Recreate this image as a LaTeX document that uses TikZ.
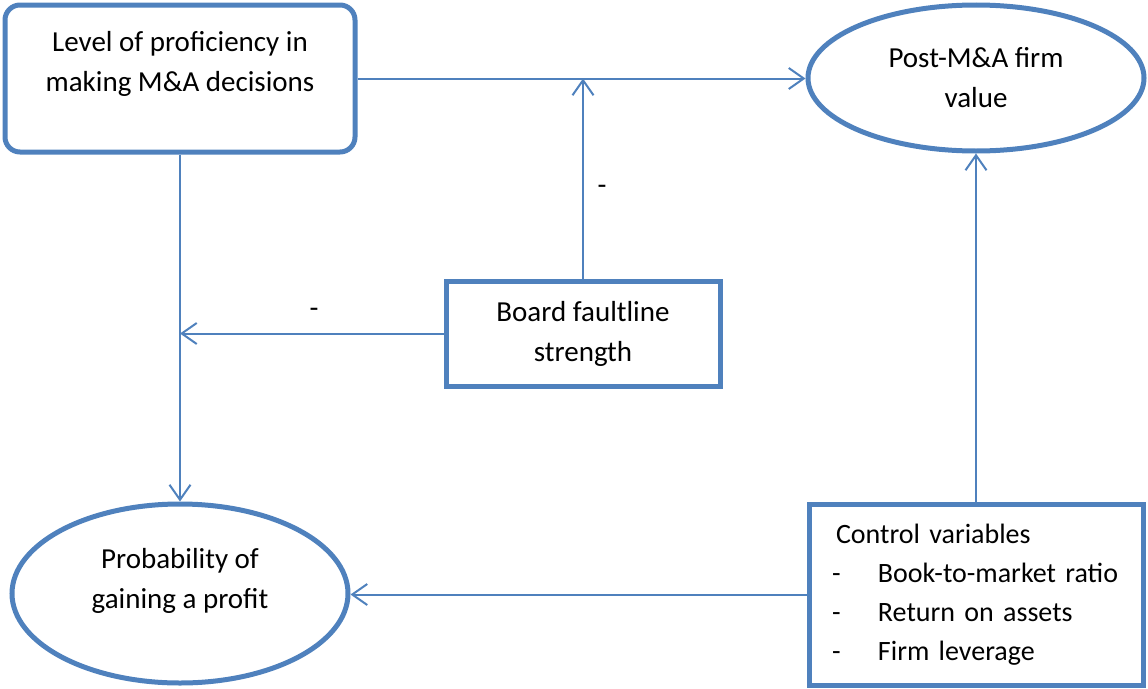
\documentclass[tikz,border=0pt]{standalone}
\usepackage{fontspec}
\setmainfont{Carlito}
\usetikzlibrary{arrows.meta, shapes.geometric}

\definecolor{msblue}{HTML}{4F81BD}

\tikzset{
    thickbox/.style={draw=msblue, line width=5pt, align=center, inner sep=0pt,
        font=\fontsize{29}{40}\selectfont},
    flow/.style={draw=msblue, line width=2pt, -{Straight Barb[length=15pt, width=21pt]}},
    sign/.style={font=\fontsize{29}{40}\selectfont}
}

\begin{document}
\begin{tikzpicture}[x=1pt, y=-1pt]
    \useasboundingbox (0,0) rectangle (1148,688);
    \node [thickbox, rounded corners=15pt, minimum width=350pt, minimum height=147pt,
        text depth=34pt] (prof) at (180,78.5)
        {Level of proficiency in\\making M\&A decisions};
    \node [thickbox, ellipse, minimum width=336pt, minimum height=146pt] (post) at (976,78)
        {Post-M\&A firm\\value};
    \node [thickbox, minimum width=274pt, minimum height=105pt] (board) at (583,333.5)
        {Board faultline\\strength};
    \node [thickbox, ellipse, minimum width=336pt, minimum height=179pt,
        text depth=30pt] (prob) at (180,593.5)
        {Probability of\\gaining a profit};
    \node [thickbox, align=left, minimum width=334pt, minimum height=181pt,
        text width=300pt, font=\fontsize{28}{39}\selectfont] (ctrl) at (976,594.5)
        {\hspace*{10pt}Control variables\\
         \hspace*{6pt}\makebox[46pt][l]{-}Book-to-market ratio\\
         \hspace*{6pt}\makebox[46pt][l]{-}Return on assets\\
         \hspace*{6pt}\makebox[46pt][l]{-}Firm leverage};
    \node [sign] (neg1) at (602,190) {-};
    \node [sign] (neg2) at (314,313) {-};
    \coordinate (hit1) at (board.north |- prof.east);
    \coordinate (hit2) at (prof.south |- board.west);
    \draw [flow] (prof.east) -- (prof.east -| post.west);
    \draw [flow] (board.north) -- (hit1);
    \draw [flow] (board.west) -- (hit2);
    \draw [flow] (prof.south) -- (prob.north);
    \draw [flow] (ctrl.north) -- (post.south);
    \draw [flow] (ctrl.west) -- (ctrl.west -| prob.east);
\end{tikzpicture}
\end{document}
